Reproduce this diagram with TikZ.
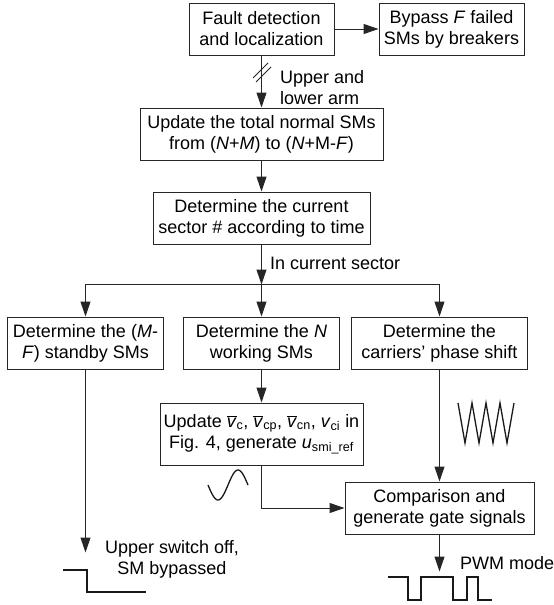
\documentclass[tikz,border=0pt]{standalone}
\usepackage{fontspec}
\setmainfont{Liberation Sans}
\usetikzlibrary{positioning}
\usetikzlibrary{arrows.meta}
\newcommand{\vavg}[1]{$\overline{\mbox{\textit{v}}}$\textsubscript{#1}}
\tikzset{%
	>={Triangle[width=10pt,length=15pt]},
	% Specifications for style of nodes:
	base/.style = {rectangle, draw=black!85, line width=1pt, minimum height=52pt, inner sep=0pt, align=center, font=\fontsize{18}{21}\selectfont},
	lbl/.style = {inner sep=0pt, font=\fontsize{18}{21}\selectfont},
	link/.style = {line width=1pt, draw=black!85},
	wave/.style = {line width=1.3pt, draw=black!90},
}

\begin{document}
\begin{tikzpicture}[x=1pt,y=-1pt]
		\useasboundingbox (0,0) rectangle (554,605);
		\node (fault) [base, minimum width=145pt] at (261.5,29) {Fault detection\\and localization};
		\node (bypass) [base, minimum width=145pt, right=44pt of fault] {Bypass \textit{F} failed\\SMs by breakers};
		\node (total) [base, minimum width=243pt, below=52pt of fault] {Update the total normal SMs\\from (\textit{N}+\textit{M}) to (\textit{N}+M-\textit{F})};
		\node (sector) [base, minimum width=217pt, below=31pt of total] {Determine the current\\sector \# according to time};
		
		\node (working) [base, minimum width=156pt, below=72pt of sector] {Determine the \textit{N}\\working SMs};
		\node (standby) [base, minimum width=156pt, left=19pt of working] {Determine the (\textit{M}-\\\textit{F}) standby SMs};
		\node (carrier) [base, minimum width=176pt, right=11pt of working] {Determine the\\carriers' phase shift};
		
		\node (update) [base, minimum width=203pt, minimum height=62pt, below=33pt of working] {Update \vavg{c}, \vavg{cp}, \vavg{cn}, \textit{v}\textsubscript{ci} in\\Fig. 4, generate \textit{u}\textsubscript{smi\_ref}};
		\node (compare) [base, minimum width=189pt, below=112pt of carrier] {Comparison and\\generate gate signals};
		
		\coordinate [below=40pt of sector] (split);
		\coordinate [below=183pt of standby] (offend);
		\coordinate [below=37pt of compare] (pwmend);
		
		\node (armlbl) [lbl, anchor=west, align=left] at (280,88) {Upper and\\lower arm};
		\node (seclbl) [lbl, anchor=west] at (270,263) {In current sector};
		\node (offlbl) [lbl, align=center] at (172,559) {Upper switch off,\\SM bypassed};
		\node (pwmlbl) [lbl, anchor=west] at (460,563) {PWM mode};
		
		\draw [link,->] (fault) -- (bypass);
		\draw [link,->] (fault) -- (total);
		\draw [link] (253,78) -- (268,63);
		\draw [link] (256,82) -- (271,67);
		\draw [link,->] (total) -- (sector);
		
		\draw [link,->] (sector) -- (split);
		\draw [link,->] (split) -- (working);
		\draw [link,->] (split) -| (standby);
		\draw [link,->] (split) -| (carrier);
		
		\draw [link,->] (working) -- (update);
		\draw [link,->] (update) |- (compare);
		\draw [link,->] (carrier) -- (compare);
		\draw [link,->] (standby) -- (offend);
		\draw [link,->] (compare) -- (pwmend);
		
		% waveforms
		\draw [wave] (63,570) -- (87,570) -- (87,592) -- (146,592);
		\draw [wave] plot[domain=0:360, samples=50, smooth] ({208+\x/9},{485+15*sin(\x)});
		\draw [wave] (458,403) -- (465,443) -- (472,403) -- (479,443) -- (486,403) -- (493,443) -- (500,403) -- (507,443) -- (514,403);
		\draw [wave] (388,577) -- (408,577) -- (408,600) -- (421,600) -- (421,577) -- (453,577) -- (453,600) -- (467,600) -- (467,577) -- (478,577) -- (478,600) -- (492,600);
		
     \end{tikzpicture}
\end{document}
